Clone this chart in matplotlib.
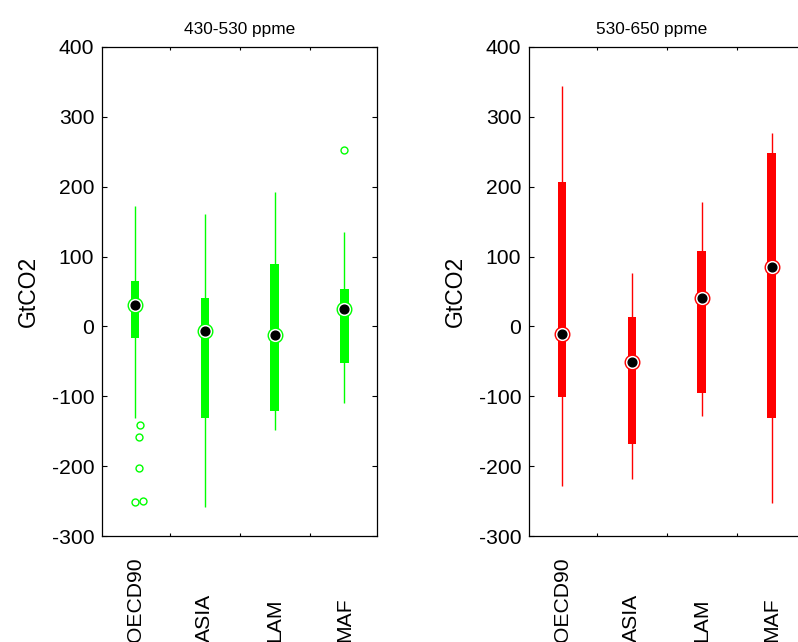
import matplotlib.pyplot as plt
import matplotlib.transforms as mtransforms

plt.rcParams['font.family'] = ['Liberation Sans', 'DejaVu Sans']

regions = ['OECD90', 'ASIA', 'LAM', 'MAF']
yticks = [-300, -200, -100, 0, 100, 200, 300, 400]

# 430-530 ppme scenarios (GtCO2)
low_lo = [-131, -258, -148, -109]
low_q1 = [-16, -131, -121, -53]
low_med = [31, -7, -12, 25]
low_q3 = [65, 40, 90, 53]
low_hi = [173, 161, 192, 135]
low_out_group = [1, 1, 1, 1, 1, 4]
low_out_jitter = [0.07, 0.05, 0.05, 0.0, 0.12, 0.0]
low_out_val = [-141, -158, -203, -252, -250, 252]

# 530-650 ppme scenarios (GtCO2)
high_lo = [-228, -218, -128, -253]
high_q1 = [-101, -168, -96, -131]
high_med = [-11, -51, 41, 85]
high_q3 = [207, 13, 108, 248]
high_hi = [344, 76, 178, 277]

fig = plt.figure(figsize=(7.98, 6.42), dpi=100)
ax1 = fig.add_axes([0.1282, 0.1651, 0.3446, 0.7617])
ax2 = fig.add_axes([0.6633, 0.1651, 0.3446, 0.7617])


def compact_box(ax, color, lo, q1, med, q3, hi, title, title_x):
    pos = list(range(1, len(regions) + 1))
    ax.vlines(pos, lo, hi, color=color, linewidth=1.0, zorder=2)
    heights = [b - a for a, b in zip(q1, q3)]
    ax.bar(pos, heights, bottom=q1, width=0.125, color=color, linewidth=0, zorder=3)
    ax.plot(pos, med, linestyle='none', marker='o', markersize=10.5,
            markerfacecolor='white', markeredgecolor=color, markeredgewidth=1.0, zorder=4)
    ax.plot(pos, med, linestyle='none', marker='o', markersize=6.3,
            markerfacecolor='black', markeredgecolor='black', zorder=5)

    ax.set_xlim(0.53, 4.47)
    ax.set_ylim(-300, 400)
    ax.set_yticks(yticks)
    ax.set_yticklabels([str(v) for v in yticks], fontsize=15.2)
    ax.set_xticks([1.5, 2.5, 3.5])
    ax.set_xticklabels([])
    ax.tick_params(axis='y', direction='in', right=True, length=3.6, width=0.8, pad=5.8)
    ax.tick_params(axis='x', direction='in', top=True, length=2.2, width=0.8)
    for s in ax.spines.values():
        s.set_linewidth(0.9)

    ax.set_ylabel('GtCO2', fontsize=16.5)
    ax.yaxis.set_label_coords(-0.2265, 0.5)
    ax.set_title(title, fontsize=12.4, x=title_x, pad=9)

    # category names below the axes, reading upward
    trans = mtransforms.blended_transform_factory(ax.transData, fig.transFigure)
    for p, name in zip(pos, regions):
        ax.text(p, 0.0, name, rotation=90, ha='center', va='bottom',
                fontsize=15.2, transform=trans, clip_on=False)


compact_box(ax1, '#00ff00', low_lo, low_q1, low_med, low_q3, low_hi, '430-530 ppme', 0.5)
out_x = [g + j for g, j in zip(low_out_group, low_out_jitter)]
ax1.plot(out_x, low_out_val, linestyle='none', marker='o', markersize=5,
         markerfacecolor='none', markeredgecolor='#00ff00', markeredgewidth=1.0, zorder=4)

compact_box(ax2, '#ff0000', high_lo, high_q1, high_med, high_q3, high_hi, '530-650 ppme', 0.446)

fig.savefig('out.png', dpi=100)
